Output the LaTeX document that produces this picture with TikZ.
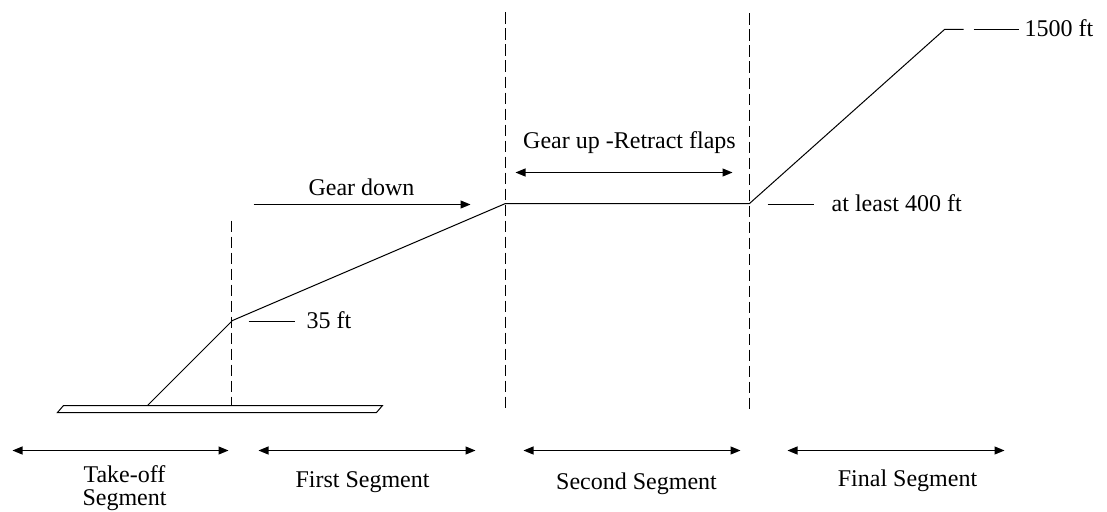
\documentclass[tikz,border=0pt]{standalone}
\usepackage{fontspec}
\setmainfont{Liberation Serif}
\usetikzlibrary{arrows.meta}
\tikzset{
  flightpath/.style={
    line width=1pt,
    draw=black,
    line join=miter
  },
  segline/.style={
    line width=1pt,
    dash pattern=on 11.5pt off 4.5pt
  },
  spanarrow/.style={
    {Triangle[length=10pt,width=8pt]}-{Triangle[length=10pt,width=8pt]},
    line width=1.1pt
  },
  fwdarrow/.style={
    -{Triangle[length=10pt,width=8pt]},
    line width=1.1pt
  },
  leader/.style={
    line width=1pt
  },
  lbl/.style={
    font=\fontsize{24}{29}\selectfont,
    inner sep=0pt,
    text=black
  }
}

\begin{document}
\begin{tikzpicture}[x=1pt,y=-1pt]
\useasboundingbox (-0.5,-0.5) rectangle (1106.5,510.5);

% Runway.
\draw[line width=1pt] (63,405) coordinate (rwtl) -- (382,405) coordinate (rwtr)
  -- (376,412) -- (57,412) -- cycle;

% Points of the climb profile.
\coordinate (liftoff) at (147,405);
\coordinate (screen) at (232,320);
\coordinate (gearup) at (505,203);
\coordinate (accel) at (749,203);
\coordinate (top) at (944,29);
\coordinate (topend) at (963,29);

% Segment boundaries.
\draw[segline] (231,220) -- (231,405);
\draw[segline] (505,12) -- (505,407);
\draw[segline] (749,13) -- (749,411);

% Climb profile.
\draw[flightpath] (liftoff) -- (screen) -- (gearup) -- (accel) -- (top) -- (topend);

% Height labels.
\coordinate (h35a) at (248,321);
\coordinate (h35b) at (294,321);
\draw[leader] (h35a) -- (h35b);
\node[lbl, anchor=base west] (h35) at (306,328) {35 ft};

\coordinate (h400a) at (767,204);
\coordinate (h400b) at (813,204);
\draw[leader] (h400a) -- (h400b);
\node[lbl, anchor=base west] (h400) at (831,210.5) {at least 400 ft};

\coordinate (h1500a) at (973,29);
\coordinate (h1500b) at (1018,29);
\draw[leader] (h1500a) -- (h1500b);
\node[lbl, anchor=base west] (h1500) at (1024,36) {1500 ft};

% Gear and flaps.
\coordinate (gdA) at (253,204);
\coordinate (gdB) at (470,204);
\draw[fwdarrow] (gdA) -- (gdB);
\node[lbl, anchor=base] (geardown) at (361,195) {Gear down};

\coordinate (guA) at (515,172);
\coordinate (guB) at (732,172);
\draw[spanarrow] (guA) -- (guB);
\node[lbl, anchor=base] (flaps) at (629,148) {Gear up -Retract flaps};

% Segment spans.
\coordinate (s1a) at (12,450);
\coordinate (s1b) at (228,450);
\coordinate (s2a) at (258,450);
\coordinate (s2b) at (475,450);
\coordinate (s3a) at (523,450);
\coordinate (s3b) at (740,450);
\coordinate (s4a) at (787,450);
\coordinate (s4b) at (1004,450);
\draw[spanarrow] (s1a) -- (s1b);
\draw[spanarrow] (s2a) -- (s2b);
\draw[spanarrow] (s3a) -- (s3b);
\draw[spanarrow] (s4a) -- (s4b);

\node[lbl, align=center, font=\fontsize{24}{23}\selectfont, anchor=south]
  (takeoff) at (124,510) {Take-off\\Segment};
\node[lbl, anchor=base] (first) at (362,486.5) {First Segment};
\node[lbl, anchor=base] (second) at (636,488.5) {Second Segment};
\node[lbl, anchor=base] (final) at (907,486) {Final Segment};

\end{tikzpicture}
\end{document}
